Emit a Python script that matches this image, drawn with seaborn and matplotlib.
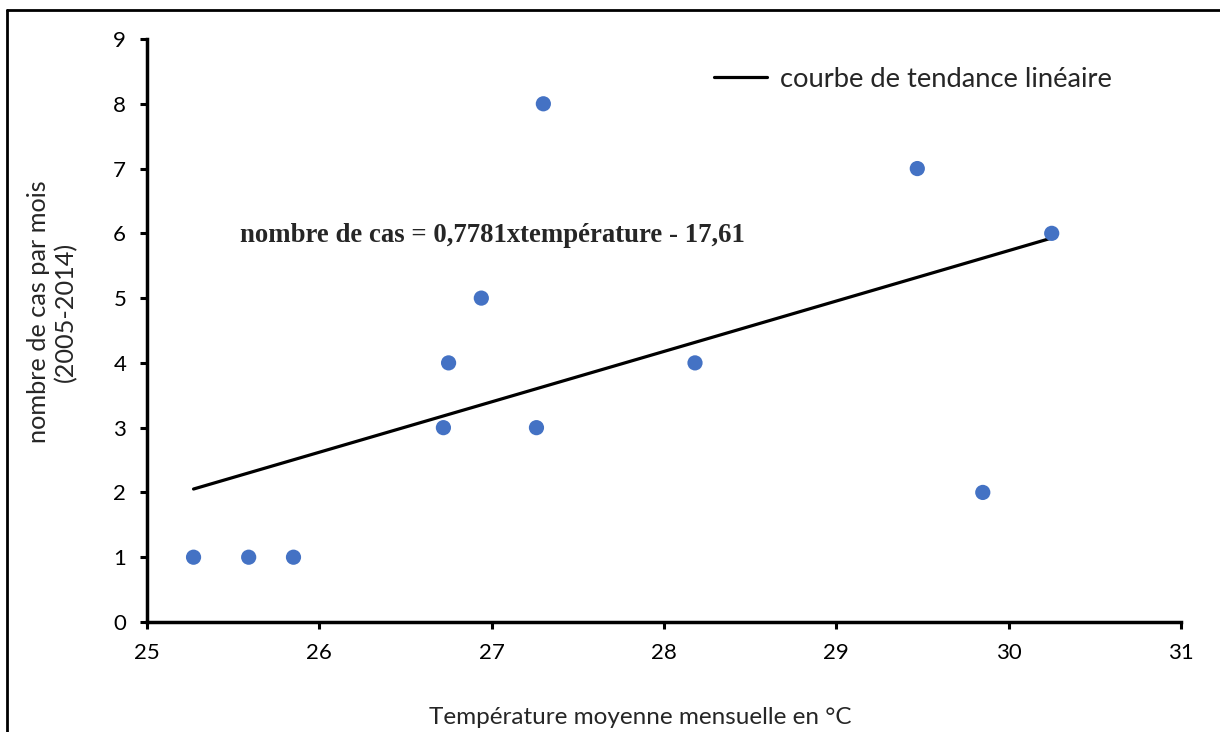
import numpy as np
import pandas as pd
import matplotlib
matplotlib.use("Agg")
import matplotlib.pyplot as plt
from matplotlib.lines import Line2D
import seaborn as sns

# Monthly mean temperature (°C) and number of cases per month (2005-2014)
temperature = [25.27, 25.59, 25.85, 26.72, 26.75, 26.94, 27.26, 27.30, 28.18, 29.47, 29.85, 30.25]
cases = [1, 1, 1, 3, 4, 5, 3, 8, 4, 7, 2, 6]

# Linear trend coefficients
slope = 0.7781
intercept = -17.61

x_ticks = [25, 26, 27, 28, 29, 30, 31]
y_ticks = [0, 1, 2, 3, 4, 5, 6, 7, 8, 9]

sns.set_theme(style="white")
plt.rcParams["font.family"] = ["Lato", "DejaVu Sans"]

df = pd.DataFrame({"temperature": temperature, "cases": cases})

fig = plt.figure(figsize=(12.2, 7.32), dpi=100)
ax = fig.add_axes([0.1205, 0.1503, 0.968 - 0.1205, 0.9467 - 0.1503])

sns.scatterplot(data=df, x="temperature", y="cases", ax=ax, s=120,
                color="#4472C4", edgecolor="none", zorder=3)

x_fit = np.array([min(temperature), max(temperature)])
trend = pd.DataFrame({"temperature": x_fit, "cases": slope * x_fit + intercept})
sns.lineplot(data=trend, x="temperature", y="cases", ax=ax, color="black",
             linewidth=2.3, zorder=2)

ax.set_xlim(25, 31)
ax.set_ylim(0, 9)
ax.set_xticks(x_ticks)
ax.set_yticks(y_ticks)
ax.tick_params(axis="both", labelsize=16, colors="black", width=2.2, length=5,
               direction="out", bottom=True, left=True)
ax.tick_params(axis="x", pad=10)
ax.tick_params(axis="y", pad=10)

for side in ["top", "right"]:
    ax.spines[side].set_visible(False)
for side in ["left", "bottom"]:
    ax.spines[side].set_linewidth(2.5)
    ax.spines[side].set_color("black")

ax.set_xlabel("Température moyenne mensuelle en °C", fontsize=17.5)
ax.xaxis.set_label_coords(0.4768, -0.145)
ax.set_ylabel("nombre de cas par mois\n(2005-2014)", fontsize=18.2)
ax.yaxis.set_label_coords(-0.0677, 0.532)

ax.text(25.54, 5.96, "nombre de cas = 0,7781xtempérature - 17,61",
        fontsize=19.3, fontweight="bold", family="Liberation Serif",
        va="center", ha="left")

handle = Line2D([], [], color="black", linewidth=2.3)
ax.legend([handle], ["courbe de tendance linéaire"], loc="upper left",
          bbox_to_anchor=(0.5244, 0.995), frameon=False, fontsize=19.7,
          handlelength=1.95, handletextpad=0.45)

# Outer frame of the figure
fig.add_artist(Line2D([0.0057, 0.0057], [0.0, 0.986], transform=fig.transFigure,
                      color="black", linewidth=2))
fig.add_artist(Line2D([0.0057, 1.0], [0.986, 0.986], transform=fig.transFigure,
                      color="black", linewidth=2))

fig.savefig("out.png", dpi=100)
